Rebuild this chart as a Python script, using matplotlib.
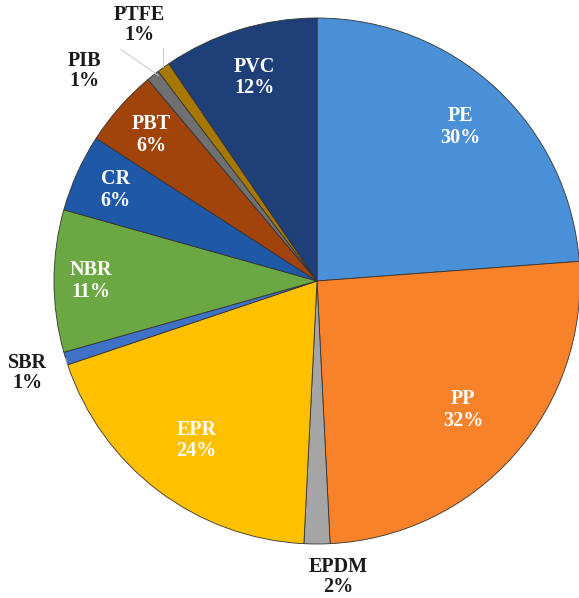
import matplotlib.pyplot as plt
import numpy as np

names = ['PE', 'PP', 'EPDM', 'EPR', 'SBR', 'NBR', 'CR', 'PBT', 'PIB', 'PTFE', 'PVC']
share = [30, 32, 2, 24, 1, 11, 6, 6, 1, 1, 12]
colors = ['#4A90D6', '#F7822A', '#A5A5A5', '#FFC000', '#3F72C6', '#6BA843',
          '#1F58A6', '#A0440C', '#707070', '#A77800', '#1E3F78']

# small slices get their label outside with a leader line
outside = {'PTFE': (-0.675, 0.975), 'PIB': (-0.885, 0.80),
           'SBR': (-1.1, -0.35), 'EPDM': (0.08, -1.125)}
# radial position of the inside labels
lab_r = {'PE': 0.80, 'PP': 0.74, 'EPR': 0.76, 'NBR': 0.86, 'CR': 0.84,
         'PBT': 0.84, 'PVC': 0.81}

plt.rcParams['font.family'] = ['Liberation Serif', 'DejaVu Serif']

fig = plt.figure(figsize=(5.79, 5.98), dpi=100)
ax = fig.add_axes([0, 0, 1, 1])

R = 263
cx, cy = 317, 281
wedges, _ = ax.pie(share, colors=colors, startangle=90, counterclock=False,
                   wedgeprops=dict(edgecolor='#333333', linewidth=0.6))

for w, n, v in zip(wedges, names, share):
    mid = np.deg2rad((w.theta1 + w.theta2) / 2)
    lab = '%s\n%d%%' % (n, v)
    if n in outside:
        tx, ty = outside[n]
        ex, ey = np.cos(mid), np.sin(mid)
        if n == 'SBR':
            ax.plot([ex, tx + 0.15], [ey, ty + 0.03], color='#c8c8c8', lw=0.7)
        elif n == 'PIB':
            ax.plot([ex + 0.02, tx + 0.14], [ey, ty + 0.08], color='#c8c8c8', lw=0.7)
        elif n == 'PTFE':
            ax.plot([ex, ex], [ey, ty - 0.09], color='#c8c8c8', lw=0.7)
        ax.text(tx, ty, lab, ha='center', va='center', fontsize=14.5,
                fontweight='bold', color='#1a1a1a', linespacing=1.0)
    else:
        r = lab_r[n]
        ax.text(r * np.cos(mid), r * np.sin(mid), lab, ha='center', va='center',
                fontsize=14.5, fontweight='bold', color='white', linespacing=1.1)

W, H = 579, 598
ax.set_xlim(-cx / R, (W - cx) / R)
ax.set_ylim(-(H - cy) / R, cy / R)
ax.set_aspect('equal')
ax.axis('off')

fig.savefig('out.png', dpi=100)
